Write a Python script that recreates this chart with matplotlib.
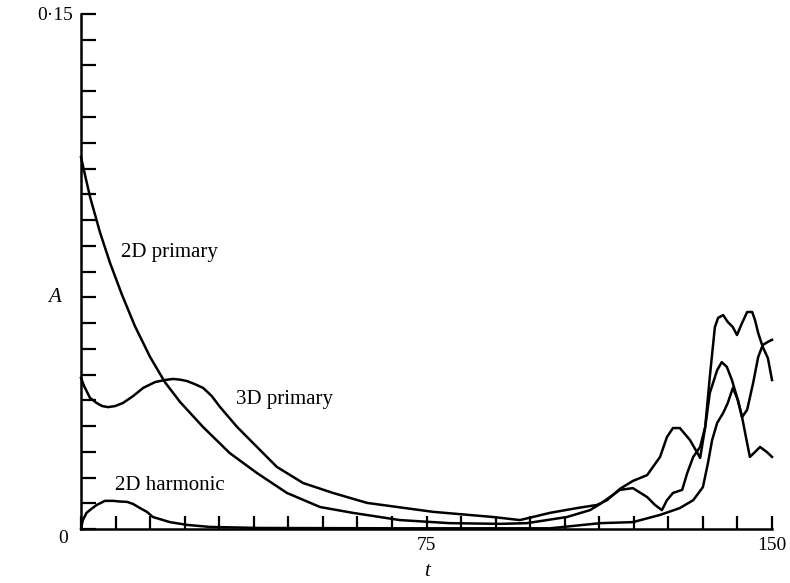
import numpy as np
import matplotlib
matplotlib.use('Agg')
import matplotlib.pyplot as plt

plt.rcParams['font.family'] = ['Liberation Serif', 'DejaVu Serif']

# values (t, A)
t_2d_primary = [0, 0.87, 1.95, 4.1, 6.3, 8.9, 11.7, 15.0, 18.2, 21.5, 26.5, 32.3, 38.2, 44.7,
                51.9, 59.0, 69.2, 80.1, 91.0, 96.8, 105.5, 110.5, 112.7, 117.0, 119.8,
                122.9, 124.6, 126.1, 127.2, 128.5, 130.5, 131.6, 132.9, 134.4, 135.5,
                136.5, 138.1, 139.1, 140.2, 141.3, 142.4, 143.5, 144.6, 145.2, 146.3,
                147.4, 148.9, 150]
A_2d_primary = [0.1083, 0.1031, 0.0968, 0.0865, 0.0775, 0.0682, 0.0591, 0.0501, 0.0428, 0.0370,
                0.0297, 0.0221, 0.0163, 0.0105, 0.0064, 0.0047, 0.0026, 0.0017, 0.0015,
                0.0017, 0.0035, 0.0055, 0.0073, 0.0114, 0.0119, 0.0093, 0.0070, 0.0055,
                0.0084, 0.0105, 0.0114, 0.0163, 0.0210, 0.0239, 0.0297, 0.0396, 0.0463,
                0.0486, 0.0472, 0.0434, 0.0384, 0.0326, 0.0250, 0.0210, 0.0224, 0.0239,
                0.0224, 0.0210]

t_3d_primary = [0, 0.65, 1.95, 3.4, 4.6, 5.9, 7.4, 9.1, 11.3, 13.5, 16.1, 18.2, 20.0, 21.5,
                23.0, 24.7, 26.5, 28.4, 30.2, 33.9, 38.2,
                42.5, 48.2, 54.7, 62.1, 76.4, 89.4, 95.3, 101.8, 107.7, 112.0, 114.2,
                117.0, 119.8, 122.9, 125.7, 127.2, 128.5, 130.0, 132.2, 133.7, 134.4,
                135.5, 136.5, 137.6, 138.3, 139.4, 140.4, 141.5, 142.4, 143.5, 144.6,
                145.7, 146.3, 147.0, 148.0, 149.1, 150]
A_3d_primary = [0.0440, 0.0417, 0.0382, 0.0367, 0.0358, 0.0355, 0.0358, 0.0367, 0.0387,
                0.0411, 0.0428, 0.0434, 0.0437, 0.0435, 0.0431, 0.0422,
                0.0411, 0.0387, 0.0355, 0.0297, 0.0239, 0.0181, 0.0134, 0.0105, 0.0076, 0.0050,
                0.0035, 0.0026, 0.0047, 0.0061, 0.0070, 0.0084, 0.0117, 0.0140, 0.0157,
                0.0210, 0.0268, 0.0294, 0.0294, 0.0259, 0.0224, 0.0207, 0.0297, 0.0443,
                0.0588, 0.0615, 0.0623, 0.0603, 0.0588, 0.0565, 0.0600, 0.0632, 0.0632,
                0.0609, 0.0571, 0.0530, 0.0498, 0.0434]

t_2d_harmonic = [0, 0.4, 1.2, 2.2, 3.4, 5.2, 6.9, 8.5, 10.0, 11.3, 12.8, 14.3, 15.6, 19.3,
                 23.0, 28.0, 38.9,
                 69.2, 101.8, 112.7, 119.8, 125.7, 130.0, 132.9, 135.0, 136.1, 137.0,
                 138.1, 139.4, 140.4, 141.5, 142.6, 143.5, 144.6, 145.9, 147.0, 148.0,
                 149.1, 150]
A_2d_harmonic = [0, 0.0026, 0.0047, 0.0058, 0.0070, 0.0082, 0.0082, 0.0080, 0.0079, 0.0073,
                 0.0061, 0.0050, 0.0035, 0.0020,
                 0.0012, 0.0006, 0.0003, 0.0002, 0.0002, 0.0017, 0.0020, 0.0041, 0.0061,
                 0.0084, 0.0122, 0.0192, 0.0259, 0.0309, 0.0338, 0.0367, 0.0411, 0.0376,
                 0.0326, 0.0347, 0.0425, 0.0501, 0.0536, 0.0545, 0.0551]

fig = plt.figure(figsize=(7.9, 5.83), dpi=100)
ax = fig.add_axes([81 / 790, 1 - 529 / 583, 691 / 790, 515 / 583])

for t, a in [(t_2d_primary, A_2d_primary), (t_3d_primary, A_3d_primary),
             (t_2d_harmonic, A_2d_harmonic)]:
    ax.plot(t, a, color='black', lw=1.8, solid_joinstyle='round', clip_on=False)

ax.set_xlim(0, 150)
ax.set_ylim(0, 0.15)
for s in ['top', 'right']:
    ax.spines[s].set_visible(False)
for s in ['left', 'bottom']:
    ax.spines[s].set_linewidth(1.8)

xt = np.arange(0, 150.1, 7.5)
ax.set_xticks(xt)
ax.set_xticklabels(['75' if v == 75 else '150' if v == 150 else '' for v in xt])
yt = np.arange(0, 0.1501, 0.0075)
ax.set_yticks(yt)
ax.set_yticklabels(['0\u00b715' if abs(v - 0.15) < 1e-6 else '' for v in yt])

ax.tick_params(axis='x', direction='in', length=9.5, width=1.6, pad=6, labelsize=14)
ax.tick_params(axis='y', direction='in', length=11, width=1.6, pad=6, labelsize=14)

ax.annotate('0', xy=(0, 0), xytext=(-13, -7), textcoords='offset points',
            ha='center', va='center', fontsize=14)

ax.text(19.3, 0.0804, '2D primary', ha='center', va='center', fontsize=15)
ax.text(44.1, 0.0376, '3D primary', ha='center', va='center', fontsize=15)
ax.text(19.3, 0.0128, '2D harmonic', ha='center', va='center', fontsize=15)

fig.text(55 / 790, 1 - 297 / 583, 'A', style='italic', fontsize=15, ha='center', va='center')
fig.text(427 / 790, 1 - 572 / 583, 't', style='italic', fontsize=15, ha='center', va='center')

fig.savefig('out.png', dpi=100)
